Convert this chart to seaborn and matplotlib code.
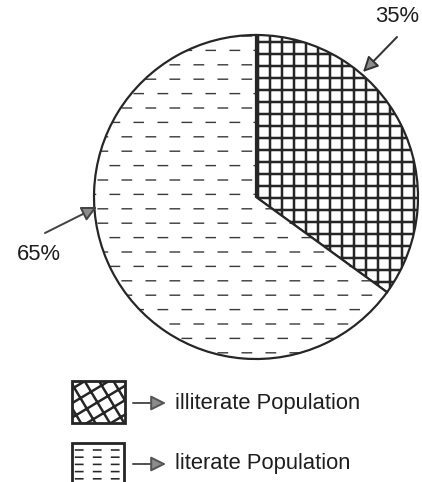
import numpy as np
import matplotlib
matplotlib.use("Agg")
import matplotlib.pyplot as plt
import matplotlib.hatch as mhatch
from matplotlib.path import Path
from matplotlib.patches import Rectangle, FancyArrowPatch
import seaborn as sns

# ---- data ----
categories = ["illiterate Population", "literate Population"]
shares = [35, 65]
pct_labels = ["35%", "65%"]
pie_hatches = ["+", "*"]        # '*' -> staggered short dash rows (custom)
legend_hatches = ["O", "o"]     # 'O' -> skewed crosshatch, 'o' -> aligned dash rows (custom)


def make_dash_hatch(char, rows, cols, dash, stagger, x_start):
    class DashRows(mhatch.HatchPatternBase):
        def __init__(self, hatch, density):
            n = hatch.count(char)
            self.rows = rows * n
            self.num_vertices = self.rows * cols * 2

        def set_vertices_and_codes(self, vertices, codes):
            k = 0
            for i in range(self.rows):
                y = (i + 0.5) / self.rows
                off = (0.5 / cols) if (stagger and i % 2) else 0.0
                for j in range(cols):
                    x0 = x_start + off + j / cols
                    vertices[k] = (x0, y)
                    vertices[k + 1] = (x0 + dash, y)
                    codes[k] = Path.MOVETO
                    codes[k + 1] = Path.LINETO
                    k += 2
    return DashRows


class SkewGrid(mhatch.HatchPatternBase):
    """Two families of oblique lines (shallow rising, steep falling)."""
    def __init__(self, hatch, density):
        self.on = hatch.count('O') > 0
        self.segs = []
        if self.on:
            for k in range(-3, 6):
                c = k / 5
                self.segs.append(((0.0, c), (1.0, c + 0.6)))
            for k in range(0, 9):
                d = k / 5
                self.segs.append(((d, 0.0), (d - 0.6, 1.0)))
        self.num_vertices = len(self.segs) * 2

    def set_vertices_and_codes(self, vertices, codes):
        for i, (a, b) in enumerate(self.segs):
            vertices[2 * i] = a
            vertices[2 * i + 1] = b
            codes[2 * i] = Path.MOVETO
            codes[2 * i + 1] = Path.LINETO


types = mhatch._hatch_types
types[types.index(mhatch.Stars)] = make_dash_hatch('*', 5, 3, 0.13, True, 0.03)
types[types.index(mhatch.SmallCircles)] = make_dash_hatch('o', 10, 4, 0.10, False, 0.05)
types[types.index(mhatch.LargeCircles)] = SkewGrid

sns.set_style("white")
plt.rcParams["font.family"] = ["Liberation Sans", "DejaVu Sans"]

W, H = 422, 482
fig = plt.figure(figsize=(W / 72, H / 72), dpi=72)
ax = fig.add_axes([0, 0, 1, 1])

edge = "#262626"
plt.rcParams["hatch.linewidth"] = 2.5
wedges, _ = ax.pie(shares, center=(256, 285), radius=162, startangle=90,
                   counterclock=False, colors=["white", "white"],
                   wedgeprops=dict(edgecolor=edge, linewidth=2.2), frame=True)
for w, h in zip(wedges, pie_hatches):
    w.set_hatch(h)
    if h == "*":
        try:
            w.set_hatch_linewidth(1.4)
        except Exception:
            pass
        w._hatch_color = matplotlib.colors.to_rgba("#3a3a3a")

ax.set_xlim(0, W)
ax.set_ylim(0, H)
ax.set_aspect("equal")
ax.axis("off")

txt_color = "#1e1e1e"
# percentage labels with arrows
ax.text(397, H - 17, pct_labels[0], ha="center", va="center", fontsize=22, color=txt_color)
ax.text(39, H - 254, pct_labels[1], ha="center", va="center", fontsize=22, color=txt_color)


def arrow(p0, p1, lw=2.0, line="#333333"):
    a = FancyArrowPatch(p0, p1, arrowstyle="-|>,head_length=0.9,head_width=0.45",
                        mutation_scale=14, edgecolor=line, facecolor="#8c8c8c",
                        linewidth=lw, shrinkA=0, shrinkB=0)
    ax.add_patch(a)


arrow((397, H - 37), (363, H - 72))
arrow((45, H - 233), (97, H - 207), line="#444444")

# legend
boxes = [(72, H - 423, 53, 42), (72, H - 482 - 2, 52, 41)]
text_y = [H - 403, H - 464]
for (x, y, bw, bh), hat, lab, ty in zip(boxes, legend_hatches, categories, text_y):
    r = Rectangle((x, y), bw, bh, facecolor="white", edgecolor=edge, linewidth=2.8, hatch=hat)
    if hat == "o":
        try:
            r.set_hatch_linewidth(1.6)
        except Exception:
            pass
    ax.add_patch(r)
    arrow((133, ty), (166, ty), lw=2.0, line="#555555")
    ax.text(175, ty, lab, ha="left", va="center", fontsize=22, color=txt_color)

fig.savefig("out.png", dpi=72)
